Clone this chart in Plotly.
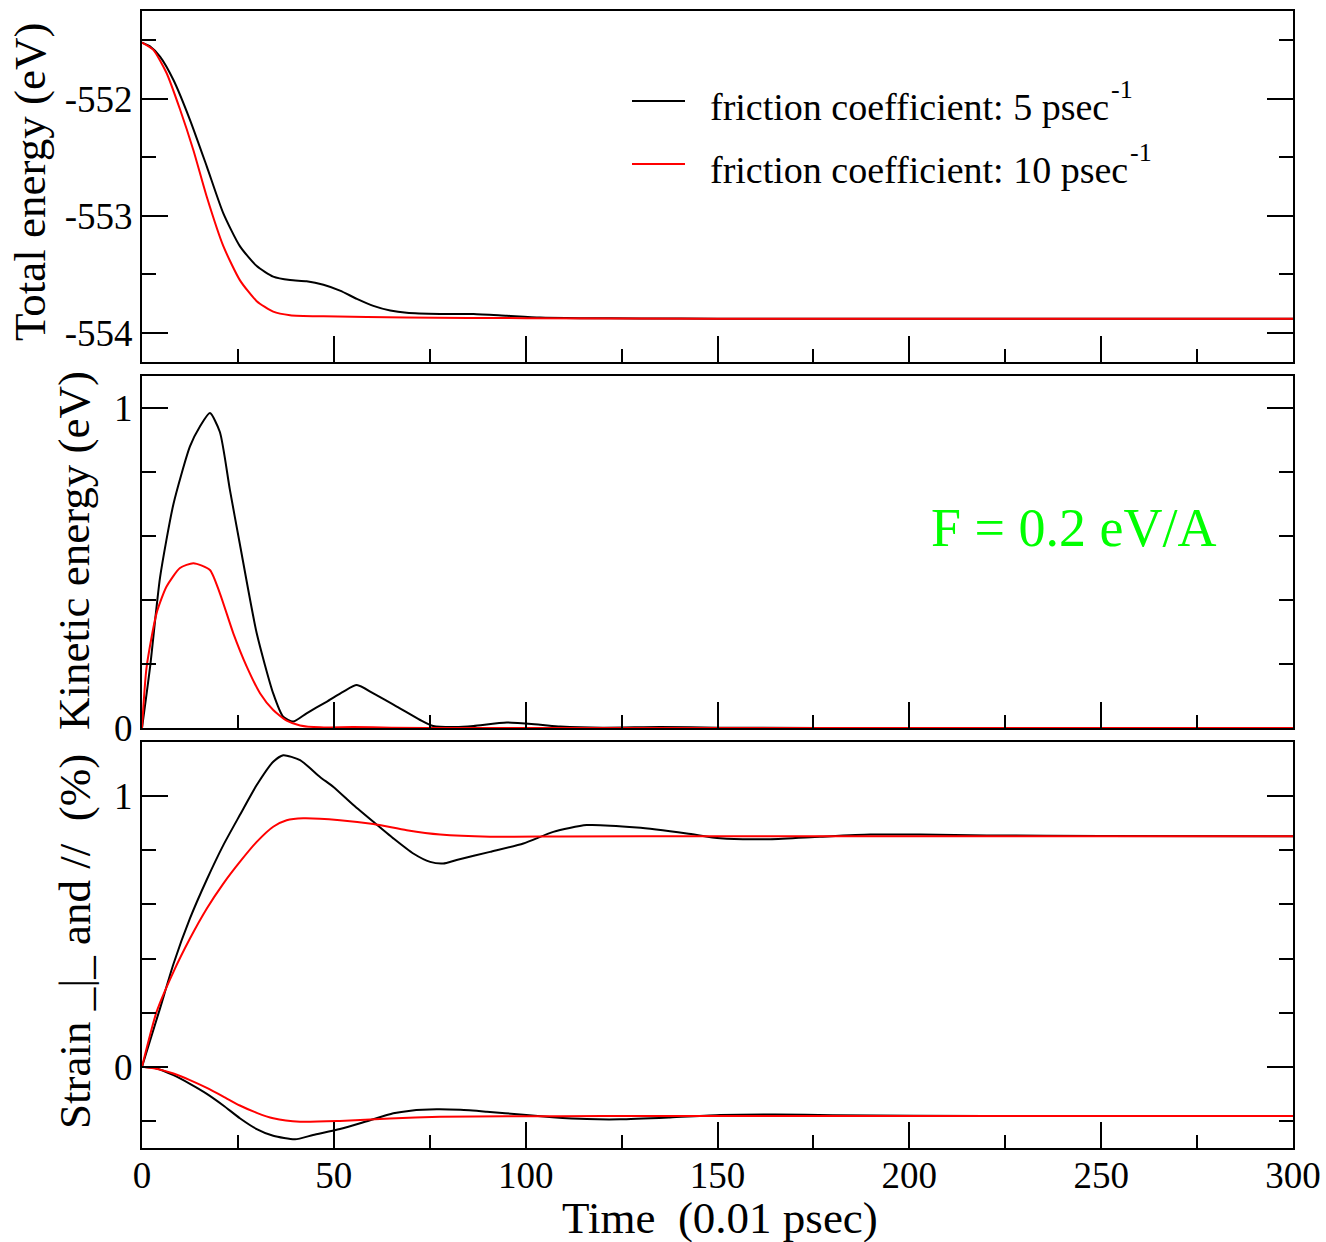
import plotly.graph_objects as go

# ---- Total energy (eV) vs time (0.01 psec) ----
t_tot_5 = [0, 2, 4.7, 8.2, 12.5, 16.9, 21.2, 25.5, 29.9, 34.2, 38.6, 42.9, 47.3, 51.6,
           56.0, 60.3, 64.7, 69.0, 77.7, 86.4, 95.1, 103.8, 114.2, 130, 150, 200, 250, 300]
e_tot_5 = [-551.52, -551.55, -551.64, -551.84, -552.18, -552.58, -552.98, -553.26, -553.43,
           -553.52, -553.55, -553.56, -553.59, -553.64, -553.71, -553.77, -553.81, -553.83,
           -553.84, -553.84, -553.855, -553.87, -553.875, -553.878, -553.88, -553.88,
           -553.88, -553.88]
t_tot_10 = [0, 2.9, 6.4, 9.9, 13.4, 16.9, 21.2, 25.5, 29.9, 34.2, 38.6, 47.3, 69, 100,
            150, 200, 250, 300]
e_tot_10 = [-551.52, -551.58, -551.78, -552.09, -552.44, -552.84, -553.26, -553.55, -553.73,
            -553.82, -553.85, -553.86, -553.87, -553.875, -553.88, -553.88, -553.88, -553.88]

# ---- Kinetic energy (eV) ----
t_kin_5 = [0, 2.1, 4.7, 8.2, 12.5, 15.1, 17.7, 20.3, 22.9, 25.5, 29.9, 34.2, 36.8, 39.4,
           42.9, 48.1, 52.5, 56.0, 60.3, 66.4, 72.5, 75.9, 81.6, 86.4, 95.1, 103.8, 109,
           120, 135, 150, 200, 300]
k_kin_5 = [0, 0.19, 0.47, 0.70, 0.88, 0.942, 0.984, 0.925, 0.745, 0.575, 0.296, 0.108,
           0.035, 0.02, 0.046, 0.082, 0.114, 0.134, 0.108, 0.067, 0.025, 0.006, 0.003,
           0.006, 0.017, 0.010, 0.005, 0.001, 0.003, 0.001, 0.0, 0.0]
t_kin_10 = [0, 1.2, 3.8, 6.4, 9.9, 13.4, 17.7, 20.3, 23.8, 27.3, 30.8, 34.2, 37.7, 41.2,
            46.4, 55, 65, 80, 300]
k_kin_10 = [0, 0.19, 0.359, 0.442, 0.50, 0.515, 0.494, 0.421, 0.296, 0.192, 0.108, 0.056,
            0.023, 0.008, 0.002, 0.003, 0.001, 0.0, 0.0]

# ---- Strain (%) : perpendicular (upper) and parallel (lower) components ----
t_sup_5 = [0, 4.7, 8.2, 12.5, 16.9, 21.2, 25.5, 29.9, 34.2, 36.8, 41.2, 46.4, 49.9, 55.1,
           60.3, 65.5, 70.7, 75.1, 78.5, 82.0, 90.7, 99.4, 107.2, 115.9, 129, 142, 150.7,
           163.7, 176.7, 189.8, 202.8, 220.2, 250, 300]
s_sup_5 = [0, 0.216, 0.38, 0.548, 0.692, 0.819, 0.93, 1.041, 1.127, 1.151, 1.133, 1.071,
           1.034, 0.967, 0.905, 0.844, 0.788, 0.757, 0.751, 0.764, 0.794, 0.825, 0.868,
           0.893, 0.884, 0.862, 0.844, 0.841, 0.850, 0.858, 0.858, 0.855, 0.853, 0.852]
t_sup_10 = [0, 3.8, 8.2, 12.5, 16.9, 21.2, 25.5, 29.9, 34.2, 37.7, 42.0, 51.6, 60.3, 69.0,
            77.7, 90.7, 109, 150, 200, 300]
s_sup_10 = [0, 0.203, 0.351, 0.474, 0.585, 0.677, 0.757, 0.831, 0.887, 0.911, 0.918, 0.911,
            0.897, 0.874, 0.858, 0.850, 0.851, 0.852, 0.852, 0.852]
t_slo_5 = [0, 3.8, 8.2, 12.5, 16.9, 21.2, 25.5, 29.9, 34.2, 39.9, 44.6, 51.6, 58.6, 65.5,
           70, 76.8, 83, 89.9, 99.4, 107, 115.9, 124.6, 137.6, 150.7, 165, 180, 220, 300]
s_slo_5 = [0, -0.006, -0.031, -0.063, -0.100, -0.143, -0.190, -0.230, -0.255, -0.268,
           -0.252, -0.230, -0.201, -0.172, -0.162, -0.157, -0.159, -0.166, -0.177, -0.186,
           -0.193, -0.194, -0.187, -0.178, -0.176, -0.179, -0.182, -0.182]
t_slo_10 = [0, 4, 8.2, 12.5, 16.9, 21.2, 25.5, 29.9, 34.2, 41.2, 51.6, 64.6, 77.7, 95, 120, 300]
s_slo_10 = [0, -0.008, -0.025, -0.049, -0.078, -0.110, -0.143, -0.170, -0.190, -0.203,
            -0.200, -0.191, -0.185, -0.183, -0.182, -0.182]

legend_labels = ["friction coefficient: 5 psec", "friction coefficient: 10 psec"]
legend_exponent = "-1"
series_colors = ["#000000", "#ff0000"]

FONT = "Liberation Serif, Times New Roman, serif"

fig = go.Figure()


def add_line(x, y, color, xa, ya):
    fig.add_trace(go.Scatter(
        x=x, y=y, mode="lines", xaxis=xa, yaxis=ya, showlegend=False,
        line=dict(color=color, width=2, shape="spline", smoothing=0.6),
        hoverinfo="skip"))


add_line(t_tot_5, e_tot_5, series_colors[0], "x", "y")
add_line(t_tot_10, e_tot_10, series_colors[1], "x", "y")
add_line(t_kin_5, k_kin_5, series_colors[0], "x2", "y2")
add_line(t_kin_10, k_kin_10, series_colors[1], "x2", "y2")
add_line(t_sup_5, s_sup_5, series_colors[0], "x3", "y3")
add_line(t_slo_5, s_slo_5, series_colors[0], "x3", "y3")
add_line(t_sup_10, s_sup_10, series_colors[1], "x3", "y3")
add_line(t_slo_10, s_slo_10, series_colors[1], "x3", "y3")

W, H = 1326, 1242
ML, MR, MT, MB = 142, 33, 11, 94
PW, PH = W - ML - MR, H - MT - MB


def py(p):
    # pixel row -> paper fraction
    return (H - MB - p) / PH


def px(p):
    return (p - ML) / PW


tickfont = dict(family=FONT, size=37, color="black")


def xaxis(dom_anchor, labels):
    return dict(range=[0, 300], domain=[0, 1], anchor=dom_anchor, showline=True,
                linewidth=2, linecolor="black", mirror=True, ticks="inside",
                ticklen=26, tickwidth=2, tickcolor="black", tick0=0, dtick=50,
                minor=dict(ticks="inside", ticklen=13, tickwidth=2, tickcolor="black",
                           dtick=25, tick0=0),
                showgrid=False, zeroline=False, showticklabels=labels, tickfont=tickfont,
                automargin=False, ticklabelstandoff=-6)


def yaxis(rng, dom, anchor, tickvals, ticktext, minorvals):
    return dict(range=rng, domain=dom, anchor=anchor, showline=True, linewidth=2,
                linecolor="black", mirror="ticks", ticks="inside", ticklen=26,
                tickwidth=2, tickcolor="black", tickmode="array", tickvals=tickvals,
                ticktext=ticktext,
                minor=dict(ticks="inside", ticklen=14, tickwidth=2, tickcolor="black",
                           tickmode="array", tickvals=minorvals),
                showgrid=False, zeroline=False, tickfont=tickfont, automargin=False)


fig.update_layout(
    width=W, height=H, margin=dict(l=ML, r=MR, t=MT, b=MB, autoexpand=False),
    paper_bgcolor="white", plot_bgcolor="white",
    font=dict(family=FONT, color="black"),
    xaxis=xaxis("y", False),
    xaxis2=xaxis("y2", False),
    xaxis3=xaxis("y3", True),
    yaxis=yaxis([-554.25, -551.25], [py(362), 1.0], "x",
                [-554, -553, -552], ["-554", "-553", "-552"], [-553.5, -552.5, -551.5]),
    yaxis2=yaxis([0, 1.1], [py(728), py(376)], "x2",
                 [0, 1], ["0", "1"], [0.2, 0.4, 0.6, 0.8]),
    yaxis3=yaxis([-0.3, 1.2], [0, py(742)], "x3",
                 [0, 1], ["0", "1"], [-0.2, 0.2, 0.4, 0.6, 0.8]),
)

titlefont = dict(family=FONT, size=45, color="black")
ann = [
    dict(text="Total energy (eV)", x=px(30), y=py(182), textangle=-90),
    dict(text="Kinetic energy (eV)", x=px(74), y=py(551), textangle=-90),
    dict(text="Strain _|_ and //\u00a0 (%)", x=px(75), y=py(942), textangle=-90),
    dict(text="Time\u00a0 (0.01 psec)", x=px(720), y=py(1218), textangle=0),
]
for a in ann:
    fig.add_annotation(xref="paper", yref="paper", showarrow=False, font=titlefont,
                       xanchor="center", yanchor="middle", **a)

# legend: line samples, labels and raised exponents
legend_rows = [101, 164]
exp_x = [1109, 1128]
for row, label, color, ex in zip(legend_rows, legend_labels, series_colors, exp_x):
    fig.add_shape(type="line", xref="paper", yref="paper", x0=px(632), x1=px(685),
                  y0=py(row), y1=py(row), line=dict(color=color, width=2))
    fig.add_annotation(xref="paper", yref="paper", x=px(708), y=py(row + 6),
                       xanchor="left", yanchor="middle", showarrow=False, text=label,
                       font=dict(family=FONT, size=38, color="black"))
    fig.add_annotation(xref="paper", yref="paper", x=px(ex), y=py(row - 11),
                       xanchor="left", yanchor="middle", showarrow=False,
                       text=legend_exponent,
                       font=dict(family=FONT, size=26, color="black"))

fig.add_annotation(xref="paper", yref="paper", x=px(1073), y=py(528), showarrow=False,
                   xanchor="center", yanchor="middle", text="F = 0.2 eV/A",
                   font=dict(family=FONT, size=54, color="#00ff00"))

fig.write_html("out.html")
